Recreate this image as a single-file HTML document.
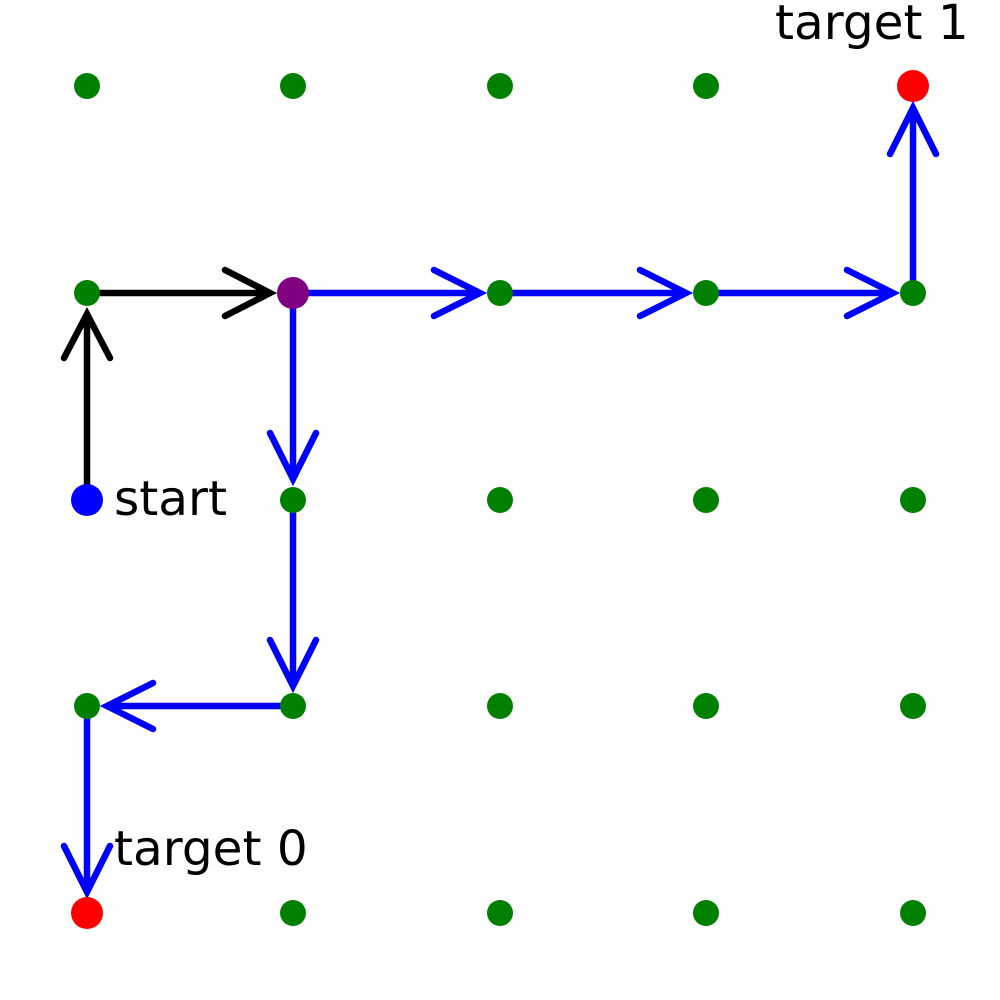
<!DOCTYPE html>
<html><head><meta charset="utf-8"><style>html,body{margin:0;padding:0;background:#fff}svg{display:block}</style></head>
<body>
<svg width="1000" height="1000" viewBox="0 0 1000 1000" xmlns="http://www.w3.org/2000/svg">
<g fill="none" stroke-width="6.5" stroke-linecap="round" stroke-linejoin="miter">
<g stroke="#000">
<path d="M87 500 L87 314 M64 358 L87 314 L110 358"/>
<path d="M87 293 L270 293 M225 270 L270 293 L225 316"/>
</g>
<g stroke="#0000ff">
<path d="M293 293 L480 293 M434 270 L480 293 L434 316"/>
<path d="M500 293 L686 293 M640 270 L686 293 L640 316"/>
<path d="M706 293 L893 293 M847 270 L893 293 L847 316"/>
<path d="M913 293 L913 108 M890 154 L913 108 L936 154"/>
<path d="M293 293 L293 479 M270 433 L293 479 L316 433"/>
<path d="M293 500 L293 686 M270 640 L293 686 L316 640"/>
<path d="M293 706 L107 706 M153 683 L107 706 L153 729"/>
<path d="M87 706 L87 892 M64 846 L87 892 L110 846"/>
</g>
</g>
<g fill="#008000">
<circle cx="87" cy="86" r="13"/><circle cx="293" cy="86" r="13"/><circle cx="500" cy="86" r="13"/><circle cx="706" cy="86" r="13"/>
<circle cx="87" cy="293" r="13"/><circle cx="500" cy="293" r="13"/><circle cx="706" cy="293" r="13"/><circle cx="913" cy="293" r="13"/>
<circle cx="293" cy="500" r="13"/><circle cx="500" cy="500" r="13"/><circle cx="706" cy="500" r="13"/><circle cx="913" cy="500" r="13"/>
<circle cx="87" cy="706" r="13"/><circle cx="293" cy="706" r="13"/><circle cx="500" cy="706" r="13"/><circle cx="706" cy="706" r="13"/><circle cx="913" cy="706" r="13"/>
<circle cx="293" cy="913" r="13"/><circle cx="500" cy="913" r="13"/><circle cx="706" cy="913" r="13"/><circle cx="913" cy="913" r="13"/>
</g>
<circle cx="293" cy="293" r="16" fill="#800080"/>
<circle cx="87" cy="500" r="16" fill="#0000ff"/>
<circle cx="87" cy="913" r="16" fill="#ff0000"/>
<circle cx="913" cy="86" r="16" fill="#ff0000"/>
<g font-family="DejaVu Sans, Liberation Sans, sans-serif" font-size="48.5" fill="#000">
<text x="114" y="515">start</text>
<text x="114" y="865">target 0</text>
<text x="775" y="39">target 1</text>
</g>
</svg>
</body></html>
